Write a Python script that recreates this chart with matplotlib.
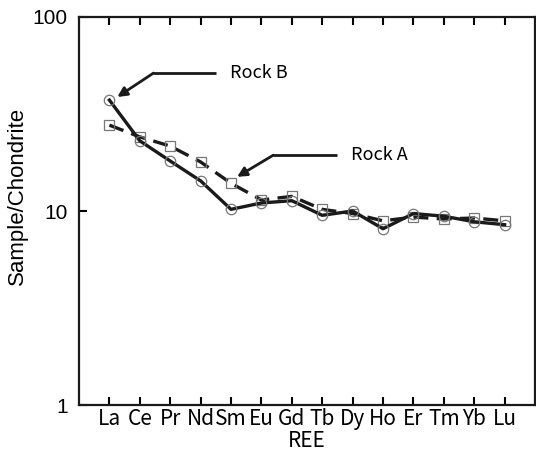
import matplotlib
matplotlib.use("Agg")
import matplotlib.pyplot as plt

ree = ["La", "Ce", "Pr", "Nd", "Sm", "Eu", "Gd", "Tb", "Dy", "Ho", "Er", "Tm", "Yb", "Lu"]
rockA = [27.7, 24.1, 21.6, 17.9, 13.9, 11.4, 11.9, 10.2, 9.7, 8.9, 9.3, 9.1, 9.2, 8.9]
rockB = [37.3, 23.0, 18.1, 14.3, 10.2, 11.0, 11.3, 9.5, 10.0, 8.1, 9.7, 9.4, 8.8, 8.5]

gothic = ["Noto Sans CJK JP", "DejaVu Sans"]
x = list(range(len(ree)))

fig = plt.figure(figsize=(5.36, 4.59), dpi=100)
ax = fig.add_axes([0.1474, 0.1176, 0.8508, 0.8454])

ax.plot(x, rockA, color="#1a1a1a", lw=2.4, ls=(0, (4.5, 2.5)),
        marker="s", ms=7.5, mfc="none", mec="#777777", mew=0.9)
ax.plot(x, rockB, color="#1a1a1a", lw=2.4, ls="-",
        marker="o", ms=7.5, mfc="none", mec="#777777", mew=0.9)

ax.set_yscale("log")
ax.set_ylim(1, 100)
ax.set_xlim(-1, 14)
ax.set_yticks([1, 10, 100])
ax.set_yticklabels(["1", "10", "100"], family="Liberation Sans", fontsize=15)
ax.minorticks_off()
ax.set_xticks(x)
ax.set_xticklabels(ree, family=gothic, fontsize=15)
ax.tick_params(axis="x", direction="in", length=6, width=1.5, top=True, pad=2)
ax.tick_params(axis="y", direction="in", length=6, width=1.5, pad=8)
for s in ax.spines.values():
    s.set_linewidth(1.6)
    s.set_color("#1a1a1a")

ax.set_xlabel("REE", family=gothic, fontsize=15, labelpad=0)
ax.set_ylabel("Sample/Chondrite", family="Liberation Sans", fontsize=16, va="center")
ax.yaxis.set_label_coords(-0.135, 0.539)

# callouts: horizontal leader then angled arrow
def callout(label, tip, tipy, knee, tail, ty):
    ax.annotate("", xy=(tip, tipy), xytext=(knee, ty),
                arrowprops=dict(arrowstyle="-|>", color="#1a1a1a", lw=2, mutation_scale=14,
                                shrinkA=0, shrinkB=0))
    ax.plot([knee, tail], [ty, ty], color="#1a1a1a", lw=2, solid_capstyle="butt")
    ax.text(tail + 0.45, ty, label, family=gothic, fontsize=13, va="center", ha="left")

callout("Rock B", 0.26, 38.7, 1.45, 3.52, 51.4)
callout("Rock A", 4.2, 15.0, 5.39, 7.5, 19.4)

plt.savefig("out.png", dpi=100)
